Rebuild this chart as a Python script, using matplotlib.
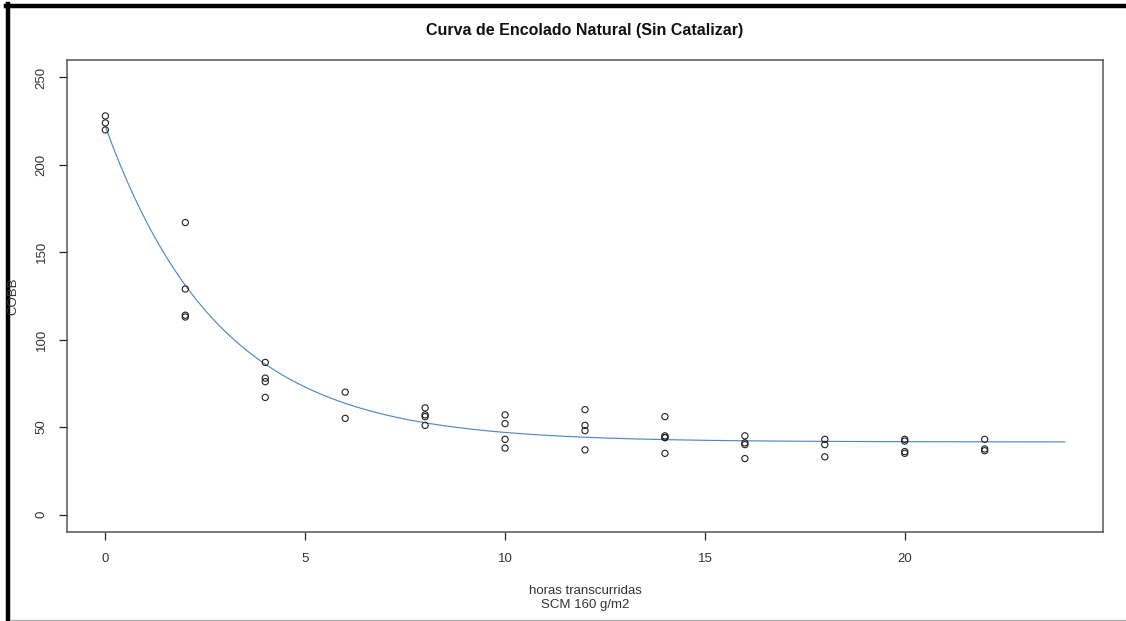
import numpy as np
import matplotlib
matplotlib.use('Agg')
import matplotlib.pyplot as plt
from matplotlib.lines import Line2D

plt.rcParams['font.family'] = ['Liberation Sans', 'DejaVu Sans']

# COBB readings per sampling time (hours)
horas = [0, 0, 0,
         2, 2, 2, 2,
         4, 4, 4, 4,
         6, 6,
         8, 8, 8, 8,
         10, 10, 10, 10,
         12, 12, 12, 12,
         14, 14, 14, 14, 14,
         16, 16, 16, 16,
         18, 18, 18,
         20, 20, 20, 20,
         22, 22, 22]
cobb = [228, 224, 220,
        167, 129, 114, 113,
        87, 78, 76, 67,
        70, 55,
        61, 57, 56, 51,
        57, 52, 43, 38,
        60, 51, 48, 37,
        56, 45, 44, 44, 35,
        45, 41, 40, 32,
        43, 40, 33,
        43, 42, 36, 35,
        43, 37.5, 36.5]

# exponential decay model: cobb = asintota + amplitud * exp(-k * horas)
asintota = 41.5
amplitud = 180.5
k = 0.35
horas_max = 24

x_ticks = [0, 5, 10, 15, 20]
y_ticks = [0, 50, 100, 150, 200, 250]

fig = plt.figure(figsize=(11.26, 6.21), dpi=100)
ax = fig.add_axes([67 / 1126, 1 - 532 / 621, (1103 - 67) / 1126, (532 - 60) / 621])

xs = np.linspace(0, horas_max, 200)
ax.plot(xs, asintota + amplitud * np.exp(-k * xs), color='#5089c6', lw=0.85, zorder=2)
ax.scatter(horas, cobb, s=20, facecolors='none', edgecolors='#222222', linewidths=0.8, zorder=3)

ax.set_xlim(-0.96, 24.96)
ax.set_ylim(-10, 260)
ax.set_xticks(x_ticks)
ax.set_yticks(y_ticks)
ax.set_yticklabels([str(v) for v in y_ticks], rotation=90, va='center')
ax.tick_params(axis='both', direction='out', length=6, width=0.9, color='#222222',
               labelsize=9.5, labelcolor='#333333')
ax.tick_params(axis='x', pad=9)
ax.tick_params(axis='y', pad=8)
for s in ax.spines.values():
    s.set_color('#555555')
    s.set_linewidth(1.1)

fig.text(585 / 1126, 1 - 30 / 621, 'Curva de Encolado Natural (Sin Catalizar)',
         ha='center', va='center', fontsize=11.5, fontweight='bold', color='#111111')
fig.text(585 / 1126, 1 - 598 / 621, 'horas transcurridas\nSCM 160 g/m2',
         ha='center', va='center', fontsize=9.5, color='#333333', linespacing=1.3)
fig.text(13 / 1126, 1 - 296 / 621, 'COBB', rotation=90, ha='center', va='center',
         fontsize=9.5, color='#333333')

# frame lines around the figure
fig.add_artist(Line2D([6 / 1126, 1], [1 - 6 / 621, 1 - 6 / 621], color='black', lw=3.2))
fig.add_artist(Line2D([8 / 1126, 8 / 1126], [0, 1 - 4 / 621], color='black', lw=3.2))
fig.add_artist(Line2D([10 / 1126, 1], [1 - 620 / 621, 1 - 620 / 621], color='#aaaaaa', lw=1.0))

fig.savefig('out.png', dpi=100)
